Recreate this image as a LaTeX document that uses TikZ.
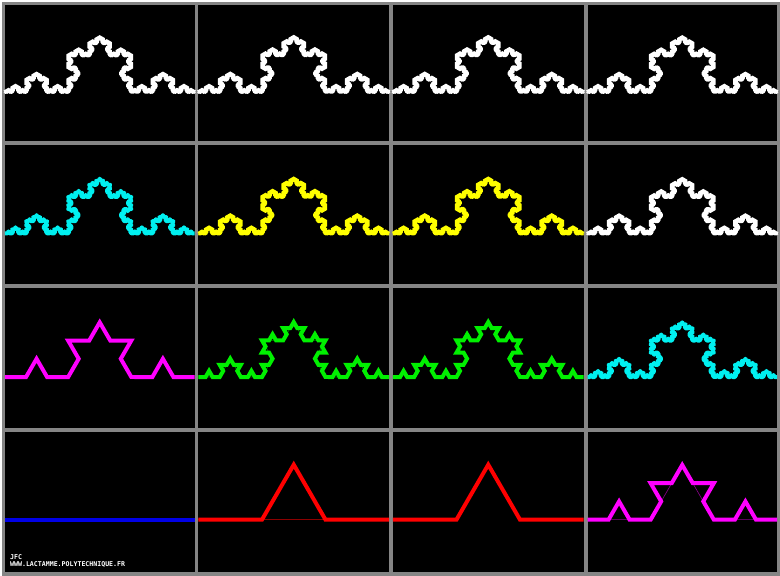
\documentclass[tikz,border=0pt]{standalone}
\usepackage{fontspec}
\setmonofont{DejaVu Sans Mono}
\usetikzlibrary{decorations.fractals}
\definecolor{frame}{HTML}{858585}
\definecolor{kwhite}{HTML}{FFFFFF}
\definecolor{kcyan}{HTML}{00F0F0}
\definecolor{kyellow}{HTML}{FFFF00}
\definecolor{kmagenta}{HTML}{FF00FF}
\definecolor{kgreen}{HTML}{00F000}
\definecolor{kred}{HTML}{FF0000}
\definecolor{kblue}{HTML}{0000E6}

% wrap a base path in #1 nested Koch decorations -> \kochtmp
\newcount\kochcnt
\newcommand\kochpath[2]{%
  \def\kochtmp{#2}\kochcnt=#1\relax
  \loop\ifnum\kochcnt>0
    \edef\kochtmp{decorate{\unexpanded\expandafter{\kochtmp}}}%
    \advance\kochcnt by -1
  \repeat}

\begin{document}
\begin{tikzpicture}[x=1pt, y=-1pt,
  panel/.style={fill=black},
  koch/.style={decoration=Koch snowflake, line width=4pt, draw=#1},
  ghost/.style={decoration=Koch snowflake, line width=0.6pt, draw=#1!55!black},
  credit/.style={font=\ttfamily\bfseries\fontsize{6.6}{7}\selectfont,
                 text=white, inner sep=0pt, anchor=base west}
]
  % Frame and panels
  \fill[frame] (0,0) rectangle (780,575);
  \foreach \xa/\xb in {3/193, 197/388, 392/583, 587/777}
    \foreach \ya/\yb in {3/139, 143/283, 287/427, 431/571}
      \fill[panel] (\xa,\ya) rectangle (\xb,\yb);

  % Curves: x0/x1/baseline/level/previous level/colour/join
  \foreach \xa/\xb/\yb/\lvl/\prev/\clr/\jn in {
      3/193/90/6/-1/kwhite/round, 197/388/90/6/-1/kwhite/round,
      392/583/90/6/-1/kwhite/round, 587/777/90/6/-1/kwhite/round,
      3/193/232/4/-1/kcyan/round, 197/388/232/5/4/kyellow/round,
      392/583/232/5/-1/kyellow/round, 587/777/232/6/5/kwhite/round,
      3/193/376/2/-1/kmagenta/miter, 197/388/376/3/2/kgreen/miter,
      392/583/376/3/-1/kgreen/miter, 587/777/376/4/3/kcyan/round,
      3/193/519/0/-1/kblue/miter, 197/388/519/1/0/kred/miter,
      392/583/519/1/-1/kred/miter, 587/777/519/2/1/kmagenta/miter}
  {
    \ifnum\prev>-1
      \kochpath{\prev}{(\xa,\yb) -- (\xb,\yb)}
      \draw[ghost=\clr] \kochtmp;
    \fi
    \kochpath{\lvl}{(\xa,\yb) -- (\xb,\yb)}
    \draw[koch=\clr, line join=\jn] \kochtmp;
  }

  % Credits
  \node[credit] (sig) at (8,559) {JFC};
  \node[credit] (url) at (8,566) {WWW.LACTAMME.POLYTECHNIQUE.FR};
\end{tikzpicture}
\end{document}
